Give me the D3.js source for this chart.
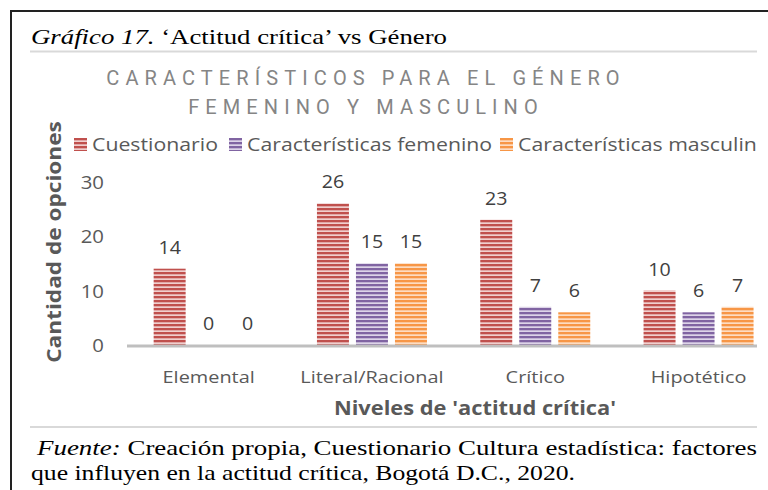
<!DOCTYPE html>
<html>
<head>
<meta charset="utf-8">
<script src="https://cdn.jsdelivr.net/npm/d3@7"></script>
<style>
  body { margin: 0; background: #fff; }
  svg { display: block; }
</style>
</head>
<body>
<div id="chart"></div>
<script>
var categories = ["Elemental", "Literal/Racional", "Crítico", "Hipotético"];
var seriesNames = ["Cuestionario", "Características femenino", "Características masculino"];
var cuestionario = [14, 26, 23, 10];
var femenino = [0, 15, 7, 6];
var masculino = [0, 15, 6, 7];
var yTicks = [0, 10, 20, 30];

(function () {
    var width = 768,
        height = 490;
    var sans = "'Open Sans', sans-serif",
        serif = "'Liberation Serif', serif";

    var colors = {
        "Cuestionario": ["#c0504d", "#f0cfce"],
        "Características femenino": ["#8064a2", "#ddd4e8"],
        "Características masculino": ["#f79646", "#fddcc2"]
    };

    // the source picture is a little stretched sideways, text is widened to follow it
    function place(x, y, sx) {
        return "translate(" + x + "," + y + ") scale(" + sx + ",1)";
    }

    var rows = categories.map(function (c, i) {
        return {
            cat: c,
            values: [
                {key: seriesNames[0], v: cuestionario[i]},
                {key: seriesNames[1], v: femenino[i]},
                {key: seriesNames[2], v: masculino[i]}
            ]
        };
    });

    var svg = d3.select("#chart").append("svg")
        .attr("width", width)
        .attr("height", height);

    var defs = svg.append("defs");
    seriesNames.forEach(function (s, i) {
        var p = defs.append("pattern")
            .attr("id", "stripe" + i)
            .attr("patternUnits", "userSpaceOnUse")
            .attr("width", 8).attr("height", 4);
        p.append("rect").attr("width", 8).attr("height", 4).attr("fill", colors[s][1]);
        p.append("rect").attr("width", 8).attr("height", 2.3).attr("fill", colors[s][0]);
    });
    defs.append("clipPath").attr("id", "crop")
        .append("rect").attr("x", 0).attr("y", 0).attr("width", 757).attr("height", height);

    // frame on the left and top
    svg.append("path")
        .attr("d", "M11,490 V11 H768")
        .attr("fill", "none")
        .attr("stroke", "#222")
        .attr("stroke-width", 2);

    // caption
    var cap = svg.append("text")
        .attr("x", 31).attr("y", 44)
        .style("font-family", serif)
        .style("font-size", "21px")
        .attr("fill", "#000")
        .attr("textLength", 416)
        .attr("lengthAdjust", "spacingAndGlyphs");
    cap.append("tspan").style("font-style", "italic").text("Gráfico 17.");
    cap.append("tspan").text(" ‘Actitud crítica’ vs Género");

    svg.append("line").attr("x1", 30).attr("x2", 757).attr("y1", 51.5).attr("y2", 51.5)
        .attr("stroke", "#d9d9d9").attr("stroke-width", 2);
    svg.append("line").attr("x1", 30).attr("x2", 757).attr("y1", 427).attr("y2", 427)
        .attr("stroke", "#d9d9d9").attr("stroke-width", 2);

    var g = svg.append("g").attr("clip-path", "url(#crop)");

    // chart title
    var titleLines = ["CARACTERÍSTICOS PARA EL GÉNERO", "FEMENINO Y MASCULINO"];
    g.selectAll(".ctitle")
        .data(titleLines)
        .enter().append("text")
        .attr("class", "ctitle")
        .attr("x", 366)
        .attr("y", function (d, i) { return 85 + i * 29; })
        .attr("text-anchor", "middle")
        .style("font-family", "Roboto, sans-serif")
        .style("font-size", "20px")
        .style("letter-spacing", "6.1px")
        .attr("fill", "#858585")
        .text(function (d) { return d; });

    // legend
    var legendX = [74, 229, 500];
    var legend = g.selectAll(".leg")
        .data(seriesNames)
        .enter().append("g")
        .attr("class", "leg")
        .attr("transform", function (d, i) { return "translate(" + legendX[i] + ",138)"; });
    legend.append("rect")
        .attr("width", 13).attr("height", 13)
        .attr("fill", function (d, i) { return "url(#stripe" + i + ")"; });
    legend.append("text")
        .attr("transform", place(18, 13, 1.15))
        .style("font-family", sans)
        .style("font-size", "18.5px")
        .attr("fill", "#595959")
        .text(function (d) { return d; });

    // scales
    var x0 = d3.scaleBand().domain(categories).range([127, 780.2]);
    var x1 = d3.scaleBand().domain(seriesNames).range([26.65, 136.65]).paddingInner(0.18);
    var y = d3.scaleLinear().domain([0, 30]).range([345, 181.5]);

    // y tick labels
    g.selectAll(".ytick")
        .data(yTicks)
        .enter().append("text")
        .attr("class", "ytick")
        .attr("transform", function (d) { return place(104, y(d) + 7, 1.1); })
        .attr("text-anchor", "end")
        .style("font-family", sans)
        .style("font-size", "18.5px")
        .attr("fill", "#595959")
        .text(function (d) { return d; });

    var groups = g.selectAll(".grp")
        .data(rows)
        .enter().append("g")
        .attr("class", "grp")
        .attr("transform", function (d) { return "translate(" + x0(d.cat) + ",0)"; });

    groups.selectAll("rect")
        .data(function (d) { return d.values; })
        .enter().append("rect")
        .attr("x", function (d) { return x1(d.key); })
        .attr("width", x1.bandwidth())
        .attr("y", function (d) { return y(d.v); })
        .attr("height", function (d) { return y(0) - y(d.v); })
        .attr("fill", function (d) { return "url(#stripe" + seriesNames.indexOf(d.key) + ")"; });

    groups.selectAll(".val")
        .data(function (d) { return d.values; })
        .enter().append("text")
        .attr("class", "val")
        .attr("transform", function (d) {
            return place(x1(d.key) + x1.bandwidth() / 2, y(d.v) - 15, 1.06);
        })
        .attr("text-anchor", "middle")
        .style("font-family", sans)
        .style("font-size", "18.5px")
        .attr("fill", "#404040")
        .text(function (d) { return d.v; });

    // x axis line and labels
    g.append("line")
        .attr("x1", x0.range()[0]).attr("x2", x0.range()[1])
        .attr("y1", y(0) + 1).attr("y2", y(0) + 1)
        .attr("stroke", "#bfbfbf").attr("stroke-width", 3);

    g.selectAll(".xlab")
        .data(categories)
        .enter().append("text")
        .attr("class", "xlab")
        .attr("transform", function (d) { return place(x0(d) + x0.bandwidth() / 2, 383, 1.17); })
        .attr("text-anchor", "middle")
        .style("font-family", sans)
        .style("font-size", "17px")
        .attr("fill", "#595959")
        .text(function (d) { return d; });

    // axis titles
    g.append("text")
        .attr("transform", place(475, 415, 1.15))
        .attr("text-anchor", "middle")
        .style("font-family", sans)
        .style("font-size", "19px")
        .style("font-weight", "bold")
        .attr("fill", "#595959")
        .text("Niveles de 'actitud crítica'");

    g.append("text")
        .attr("transform", "translate(61,242) rotate(-90) scale(1.16,1)")
        .attr("text-anchor", "middle")
        .style("font-family", sans)
        .style("font-size", "19.5px")
        .style("font-weight", "bold")
        .attr("fill", "#595959")
        .text("Cantidad de opciones");

    // source note
    var src = svg.append("text")
        .attr("x", 37).attr("y", 455)
        .style("font-family", serif)
        .style("font-size", "21px")
        .attr("fill", "#000")
        .attr("textLength", 720)
        .attr("lengthAdjust", "spacingAndGlyphs");
    src.append("tspan").style("font-style", "italic").text("Fuente:");
    src.append("tspan").text(" Creación propia, Cuestionario Cultura estadística: factores");
    svg.append("text")
        .attr("x", 31).attr("y", 480)
        .style("font-family", serif)
        .style("font-size", "21px")
        .attr("fill", "#000")
        .attr("textLength", 544)
        .attr("lengthAdjust", "spacingAndGlyphs")
        .text("que influyen en la actitud crítica, Bogotá D.C., 2020.");
})();
</script>
</body>
</html>
